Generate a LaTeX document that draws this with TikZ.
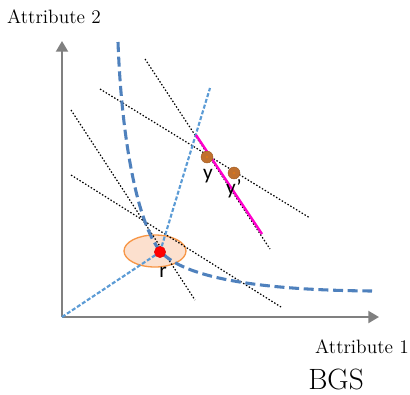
\documentclass[tikz,border=0pt]{standalone}
\usepackage{fontspec}
\newfontfamily\labelfont{Carlito}
\usetikzlibrary{arrows.meta, shapes.geometric}
\usepackage{xcolor}
\definecolor{curveblue}{RGB}{79,129,189}
\definecolor{rayblue}{RGB}{91,155,213}
\definecolor{pointbrown}{RGB}{192,112,46}
\definecolor{regionline}{RGB}{247,150,70}
\definecolor{regionfill}{RGB}{251,214,190}
\definecolor{frontpink}{RGB}{255,0,204}

\begin{document}
\begin{tikzpicture}[ x=0.75pt, y=-0.75pt, axis/.style={ draw=gray, line width=1.5pt, -{Triangle[length=8pt, width=9pt]} }, axisLabel/.style={ anchor=base, inner sep=0pt, font=\fontsize{14.5}{16}\selectfont }, level/.style={ draw=black, line width=0.9pt, dash pattern=on 1.1pt off 1.4pt }, ray/.style={ draw=rayblue, line width=1.6pt, dash pattern=on 3pt off 1.5pt }, curve/.style={ draw=curveblue, line width=2.3pt, dash pattern=on 7.5pt off 3.5pt }, solution/.style={ circle, fill=pointbrown, draw=pointbrown!80!black, line width=0.3pt, minimum size=9pt, inner sep=0pt }, pointLabel/.style={ anchor=base, inner sep=0pt, font=\labelfont\fontsize{16}{18}\selectfont } ]
\useasboundingbox (0,0) rectangle (410,394);

% --- Punti ---
\coordinate (origin) at (62,317);
\coordinate (xend) at (379,317);
\coordinate (yend) at (62,41);
\coordinate (rpos) at (160,252);
\coordinate (raytop) at (210,88);
\coordinate (frontA) at (196,135);
\coordinate (frontB) at (262,234);

% --- Regione attorno a r ---
\node[ellipse, draw=regionline, line width=1pt, fill=regionfill, fill opacity=0.75, minimum width=46.5pt, minimum height=24pt, inner sep=0pt] (region) at (155,251) {};

% --- Rette di livello ---
\draw[level] (145,59) -- (270,249);
\draw[level] (100,89) -- (310,218);
\draw[level] (71,110) -- (195,300);
\draw[level] (71,175) -- (281,307);

% --- Assi ---
\draw[axis] (origin) -- (xend);
\draw[axis] (origin) -- (yend);
\node[axisLabel] (lab2) at (54,23) {Attribute 2};
\node[axisLabel] (lab1) at (362,353) {Attribute 1};
\node[axisLabel, font=\fontsize{22}{26}\selectfont] (bgs) at (336,389) {BGS};

% --- Curva e raggi ---
\draw[curve] (118,42) .. controls (122,150) and (140,230) .. (162,253) .. controls (185,276) and (250,290) .. (372,291);
\draw[ray] (origin) -- (rpos);
\draw[ray] (rpos) -- (raytop);
\node[circle, fill=red, draw=red!85!black, line width=0.3pt, minimum size=8.5pt, inner sep=0pt] (r) at (rpos) {};

% --- Fronte ---
\draw[frontpink, line width=1.8pt] (frontA) -- (frontB);
\node[solution] (y) at (207,157) {};
\node[solution] (yp) at (234,173) {};
\fill[pointbrown!60!orange] (y) circle (1pt) (yp) circle (1pt);

% --- Etichette ---
\node[pointLabel] at (208,179) {y};
\node[pointLabel] at (234,194) {y’};
\node[pointLabel] at (163,277) {r};
\end{tikzpicture}
\end{document}
